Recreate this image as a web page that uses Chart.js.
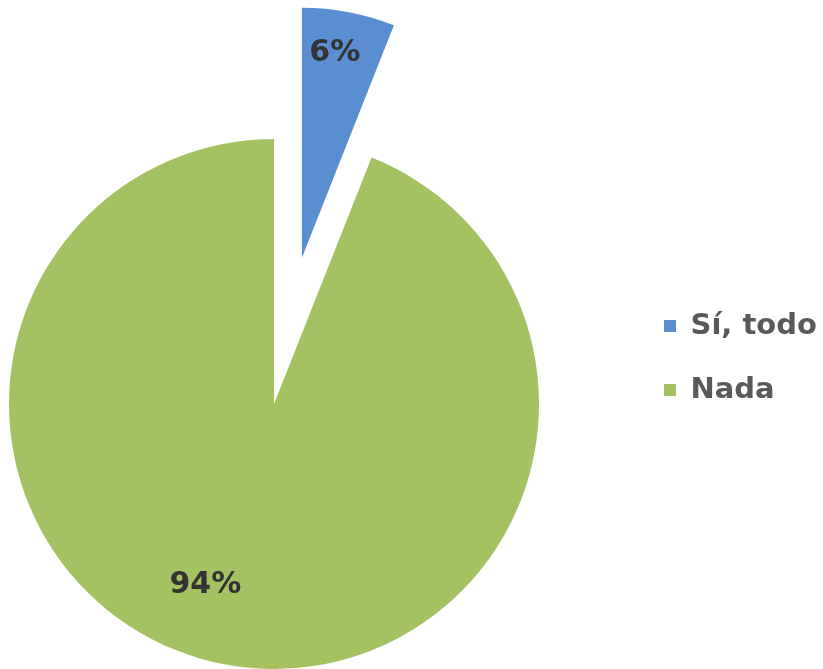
<!DOCTYPE html>
<html>
<head>
<meta charset="utf-8">
<script src="https://cdn.jsdelivr.net/npm/chart.js@4.4.1/dist/chart.umd.min.js"></script>
<style>
  html, body { margin: 0; padding: 0; background: #ffffff; }
  #wrap { width: 823px; height: 669px; position: relative; }
</style>
</head>
<body>
<div id="wrap"><canvas id="c" width="823" height="669"></canvas></div>
<script>
// ---- data ----
const categories = ['Sí, todo', 'Nada'];
const values = [6, 94];
const sliceColors = ['#5A8ED0', '#A5C263'];

// explode a slice outward along its mid angle (pixels), and scale its radius
const explodeSlices = {
  id: 'explodeSlices',
  afterDatasetsUpdate(chart, args, opts) {
    const meta = chart.getDatasetMeta(0);
    meta.data.forEach((arc, i) => {
      const d = opts.distance[i] || 0;
      const s = opts.scale[i] == null ? 1 : opts.scale[i];
      const mid = (arc.startAngle + arc.endAngle) / 2;
      arc.x += Math.cos(mid) * d;
      arc.y += Math.sin(mid) * d;
      arc.outerRadius *= s;
    });
  }
};

// percentage labels drawn from the arcs computed by Chart.js
const pctLabels = {
  id: 'pctLabels',
  afterDatasetsDraw(chart, args, opts) {
    const meta = chart.getDatasetMeta(0);
    const data = chart.data.datasets[0].data;
    const total = data.reduce((a, b) => a + b, 0);
    const ctx = chart.ctx;
    ctx.save();
    ctx.font = opts.font;
    ctx.fillStyle = opts.color;
    ctx.textAlign = 'center';
    ctx.textBaseline = 'middle';
    meta.data.forEach((arc, i) => {
      const mid = (arc.startAngle + arc.endAngle) / 2;
      const a = mid + (opts.angleShift[i] || 0) * Math.PI / 180;
      const d = arc.outerRadius * opts.radial[i];
      ctx.fillText(Math.round(data[i] / total * 100) + '%', arc.x + Math.cos(a) * d, arc.y + Math.sin(a) * d);
    });
    ctx.restore();
  }
};

// place the legend block to the right of the pie
const legendPlacement = {
  id: 'legendPlacement',
  afterLayout(chart, args, opts) {
    const lg = chart.legend;
    if (!lg) return;
    const w = lg.right - lg.left, h = lg.bottom - lg.top;
    lg.left = opts.left; lg.right = opts.left + w;
    lg.top = opts.top; lg.bottom = opts.top + h;
  }
};

new Chart(document.getElementById('c'), {
  type: 'pie',
  data: {
    labels: categories,
    datasets: [{
      data: values,
      backgroundColor: sliceColors,
      borderWidth: 0,
      clip: false
    }]
  },
  options: {
    responsive: false,
    animation: false,
    events: [],
    radius: 265,
    cutout: '0%',
    layout: { padding: { top: 139, left: 0, right: 275, bottom: 0 } },
    plugins: {
      tooltip: { enabled: false },
      legend: {
        display: true,
        position: 'chartArea',
        align: 'start',
        labels: {
          boxWidth: 12,
          boxHeight: 12,
          padding: 35,
          color: '#58595B',
          font: { family: 'DejaVu Sans', size: 29, weight: 'bold' }
        }
      },
      explodeSlices: { distance: [149, 0], scale: [0.943, 1] },
      pctLabels: {
        font: 'bold 30px "DejaVu Sans"',
        color: '#333333',
        angleShift: [-1.7, 10],
        radial: [0.83, 0.73]
      },
      legendPlacement: { left: 629, top: 276.5 }
    }
  },
  plugins: [explodeSlices, pctLabels, legendPlacement]
});
</script>
</body>
</html>
